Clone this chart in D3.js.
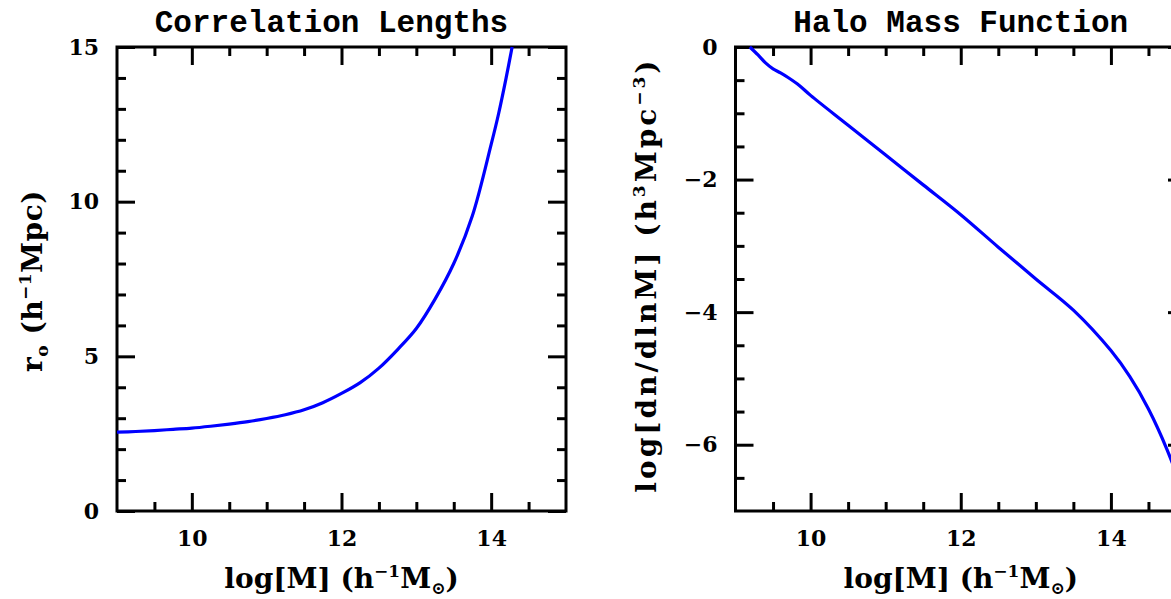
<!DOCTYPE html>
<html>
<head>
<meta charset="utf-8">
<script src="https://cdn.jsdelivr.net/npm/d3@7"></script>
<style>
  html, body { margin: 0; padding: 0; background: #fff; }
  svg { display: block; }
</style>
</head>
<body>
<svg id="chart" width="1171" height="599"></svg>
<script>
// ---------------- data ----------------
const corrMass = [9.0, 9.25, 9.5, 9.75, 10.0, 10.25, 10.5, 10.75, 11.0, 11.25, 11.5, 11.75, 12.0, 12.25, 12.5, 12.75, 13.0, 13.25, 13.5, 13.75, 14.0, 14.1, 14.2, 14.28];
const corrR0   = [2.55, 2.57, 2.60, 2.64, 2.68, 2.74, 2.81, 2.89, 2.99, 3.11, 3.27, 3.50, 3.80, 4.15, 4.62, 5.22, 5.90, 6.85, 8.00, 9.55, 11.85, 12.85, 14.0, 15.0];

const hmfMass  = [9.19, 9.3, 9.4, 9.5, 9.6, 9.7, 9.85, 10.0, 10.5, 11.0, 11.5, 12.0, 12.5, 13.0, 13.5, 14.0, 14.25, 14.5, 14.75, 15.0];
const hmfValue = [0.0, -0.12, -0.24, -0.33, -0.39, -0.46, -0.58, -0.73, -1.18, -1.63, -2.08, -2.53, -3.02, -3.50, -3.97, -4.58, -4.97, -5.46, -6.08, -6.85];

const xMajorTicks = [10, 12, 14];
const xMinorTicks = [9.5, 10.5, 11, 11.5, 12.5, 13, 13.5, 14.5];
const corrYMajor = [0, 5, 10, 15];
const corrYMinor = [1, 2, 3, 4, 6, 7, 8, 9, 11, 12, 13, 14];
const hmfYMajor = [0, -2, -4, -6];
const hmfYMinor = [-0.5, -1, -1.5, -2.5, -3, -3.5, -4.5, -5, -5.5, -6.5];

const titles = ["Correlation Lengths", "Halo Mass Function"];

// ---------------- drawing ----------------
const FONT = "DejaVu Serif";
const TITLE_FONT = "Liberation Mono";
const svg = d3.select("#chart");

function panel(cfg) {
  const x = d3.scaleLinear().domain(cfg.xDomain).range([cfg.left, cfg.right]);
  const y = d3.scaleLinear().domain(cfg.yDomain).range([cfg.bottom, cfg.top]);
  const g = svg.append("g");

  const major = 18, minor = 9, lw = 3;

  function styleAxis(sel, withLabels) {
    sel.select(".domain").remove();
    sel.selectAll(".tick line").attr("stroke", "#000").attr("stroke-width", lw).attr("stroke-linecap", "butt");
    sel.attr("font-family", null).attr("font-size", null);
    if (withLabels) {
      sel.selectAll(".tick text")
        .attr("font-family", FONT).attr("font-weight", "bold")
        .attr("font-size", 22).attr("fill", "#000");
    } else {
      sel.selectAll(".tick text").remove();
    }
  }

  // bottom
  g.append("g").attr("transform", `translate(0,${cfg.bottom})`)
    .call(d3.axisBottom(x).tickValues(xMajorTicks).tickSize(-major).tickPadding(19).tickFormat(d3.format("d")))
    .call(s => styleAxis(s, true));
  g.append("g").attr("transform", `translate(0,${cfg.bottom})`)
    .call(d3.axisBottom(x).tickValues(xMinorTicks).tickSize(-minor))
    .call(s => styleAxis(s, false));
  // top
  g.append("g").attr("transform", `translate(0,${cfg.top})`)
    .call(d3.axisTop(x).tickValues(xMajorTicks).tickSize(-major))
    .call(s => styleAxis(s, false));
  g.append("g").attr("transform", `translate(0,${cfg.top})`)
    .call(d3.axisTop(x).tickValues(xMinorTicks).tickSize(-minor))
    .call(s => styleAxis(s, false));
  // left
  g.append("g").attr("transform", `translate(${cfg.left},0)`)
    .call(d3.axisLeft(y).tickValues(cfg.yMajor).tickSize(-major).tickPadding(18)
      .tickFormat(d => d < 0 ? "\u2212" + Math.abs(d) : String(d)))
    .call(s => styleAxis(s, true));
  g.append("g").attr("transform", `translate(${cfg.left},0)`)
    .call(d3.axisLeft(y).tickValues(cfg.yMinor).tickSize(-minor))
    .call(s => styleAxis(s, false));
  // right
  g.append("g").attr("transform", `translate(${cfg.right},0)`)
    .call(d3.axisRight(y).tickValues(cfg.yMajor).tickSize(-major))
    .call(s => styleAxis(s, false));
  g.append("g").attr("transform", `translate(${cfg.right},0)`)
    .call(d3.axisRight(y).tickValues(cfg.yMinor).tickSize(-minor))
    .call(s => styleAxis(s, false));

  // frame
  g.append("rect")
    .attr("x", cfg.left).attr("y", cfg.top)
    .attr("width", cfg.right - cfg.left).attr("height", cfg.bottom - cfg.top)
    .attr("fill", "none").attr("stroke", "#000").attr("stroke-width", lw);

  // curve
  const clipId = "clip" + cfg.id;
  svg.append("clipPath").attr("id", clipId).append("rect")
    .attr("x", cfg.left).attr("y", cfg.top - 2)
    .attr("width", cfg.right - cfg.left).attr("height", cfg.bottom - cfg.top + 2);
  const pts = cfg.xs.map((v, i) => [v, cfg.ys[i]]);
  g.append("path")
    .attr("clip-path", `url(#${clipId})`)
    .attr("d", d3.line().x(d => x(d[0])).y(d => y(d[1])).curve(d3.curveCatmullRom.alpha(0.5))(pts))
    .attr("fill", "none").attr("stroke", "#0000ff").attr("stroke-width", 3.2);

  // title
  g.append("text")
    .attr("x", (cfg.left + cfg.right) / 2 + cfg.titleShift).attr("y", 32)
    .attr("text-anchor", "middle")
    .attr("font-family", TITLE_FONT).attr("font-weight", "bold").attr("font-size", 31).attr("fill", "#000")
    .text(cfg.title);

  // x label
  const xl = g.append("text")
    .attr("x", (cfg.left + cfg.right) / 2).attr("y", 588)
    .attr("text-anchor", "middle")
    .attr("font-family", FONT).attr("font-weight", "bold").attr("font-size", 28).attr("fill", "#000");
  xl.append("tspan").text("log[M] (h");
  xl.append("tspan").attr("font-size", 17).attr("dy", -11).text("\u22121");
  xl.append("tspan").attr("dy", 11).text("M");
  xl.append("tspan").attr("font-size", 17).attr("dy", 6).text("\u2299");
  xl.append("tspan").attr("dy", -6).text(")");

  // y label
  const yl = g.append("text")
    .attr("transform", `translate(${cfg.yLabelX},${(cfg.top + cfg.bottom) / 2 + cfg.yLabelShift}) rotate(-90)`)
    .attr("text-anchor", "middle")
    .attr("letter-spacing", cfg.yLabelSpacing)
    .attr("font-family", FONT).attr("font-weight", "bold").attr("font-size", 28).attr("fill", "#000");
  cfg.yLabel(yl);
}

panel({
  id: 0, left: 117, right: 566, top: 47, bottom: 511,
  xDomain: [9, 15], yDomain: [0, 15],
  yMajor: corrYMajor, yMinor: corrYMinor,
  xs: corrMass, ys: corrR0, title: titles[0], titleShift: -10,
  yLabelX: 42, yLabelSpacing: 0.5, yLabelShift: 2,
  yLabel: t => {
    t.append("tspan").text("r");
    t.append("tspan").attr("font-size", 17).attr("dy", 6).text("o");
    t.append("tspan").attr("dy", -6).text(" (h");
    t.append("tspan").attr("font-size", 17).attr("dy", -11).text("\u22121");
    t.append("tspan").attr("dy", 11).text("Mpc)");
  }
});

panel({
  id: 1, left: 735.5, right: 1186, top: 47, bottom: 511,
  xDomain: [9, 15], yDomain: [-7, 0],
  yMajor: hmfYMajor, yMinor: hmfYMinor,
  xs: hmfMass, ys: hmfValue, title: titles[1], titleShift: 0,
  yLabelX: 656, yLabelSpacing: 3, yLabelShift: -4,
  yLabel: t => {
    t.append("tspan").text("log[dn/dlnM] (h");
    t.append("tspan").attr("font-size", 17).attr("dy", -11).text("3");
    t.append("tspan").attr("dy", 11).text("Mpc");
    t.append("tspan").attr("font-size", 17).attr("dy", -11).text("\u22123");
    t.append("tspan").attr("dy", 11).text(")");
  }
});
</script>
</body>
</html>
